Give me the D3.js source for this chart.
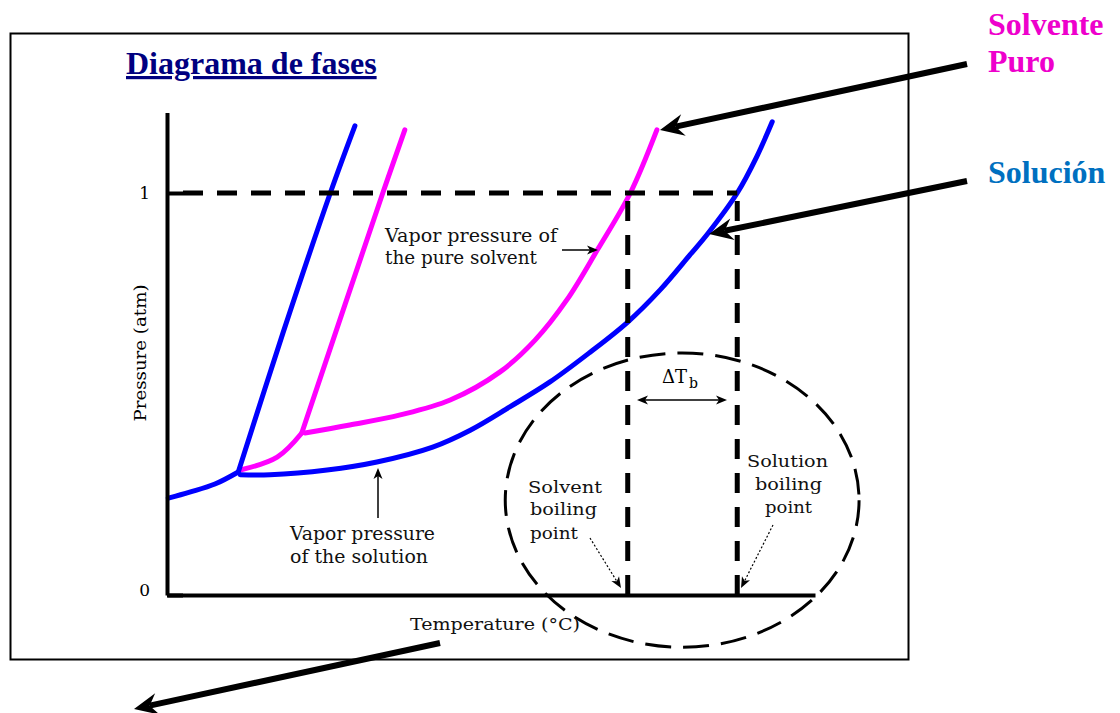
<!DOCTYPE html>
<html>
<head>
<meta charset="utf-8">
<script src="https://cdn.jsdelivr.net/npm/d3@7"></script>
<style>
  body { margin: 0; background: #fff; }
  svg { display: block; }
</style>
</head>
<body>
<script>
// curves as [temperature (arbitrary 0-100), pressure (atm)]
const solventSublimation = [[11.3,0.311],[17.0,0.343],[20.8,0.403]];
const solventMelting = [[20.8,0.403],[33.3,1.0],[36.7,1.157]];
const solventVapor = [[21.3,0.403],[28.2,0.423],[36.0,0.448],[43.7,0.485],[51.4,0.555],[56.8,0.634],[61.7,0.734],[66.4,0.858],[71.5,1.0],[75.6,1.157]];

const solutionSublimation = [[0.2,0.241],[3.5,0.256],[7.4,0.276],[11.0,0.306]];
const solutionMelting = [[11.0,0.306],[17.9,0.652],[25.2,1.0],[29.0,1.167]];
const solutionVapor = [[11.3,0.299],[15.9,0.299],[24.7,0.311],[32.4,0.331],[41.0,0.368],[46.8,0.410],[52.9,0.468],[59.1,0.530],[65.3,0.604],[71.1,0.679],[76.1,0.759],[80.7,0.846],[83.5,0.900],[88.0,1.0],[91.0,1.090],[93.4,1.177]];

const pressureTicks = [0, 1];
const solventBoilingT = 71.1;
const solutionBoilingT = 88.0;

const width = 1120, height = 713;
const magenta = "#ff00ff", blue = "#0000ff";

const svg = d3.select("body").append("svg")
  .attr("width", width).attr("height", height)
  .attr("viewBox", `0 0 ${width} ${height}`);

const x = d3.scaleLinear().domain([0, 100]).range([167, 815]);
const y = d3.scaleLinear().domain([0, 1.2]).range([595, 112.6]);

// outer frame
svg.append("rect").attr("x", 10.5).attr("y", 33.5).attr("width", 898).attr("height", 626)
  .attr("fill", "none").attr("stroke", "#000").attr("stroke-width", 2);

// title
svg.append("text").attr("x", 126).attr("y", 74)
  .attr("font-family", "Liberation Serif, Times New Roman, serif")
  .attr("font-weight", "bold").attr("font-size", 32).attr("fill", "#000080")
  .attr("text-decoration", "underline")
  .text("Diagrama de fases");

const smooth = d3.line().x(d => x(d[0])).y(d => y(d[1])).curve(d3.curveCatmullRom.alpha(0.5));

const curves = svg.append("g").attr("fill", "none").attr("stroke-width", 5).attr("stroke-linecap", "round");
curves.append("path").datum(solventSublimation).attr("d", smooth).attr("stroke", magenta);
curves.append("path").datum(solventMelting).attr("d", smooth).attr("stroke", magenta);
curves.append("path").datum(solventVapor).attr("d", smooth).attr("stroke", magenta);
curves.append("path").datum(solutionSublimation).attr("d", smooth).attr("stroke", blue);
curves.append("path").datum(solutionMelting).attr("d", smooth).attr("stroke", blue);
curves.append("path").datum(solutionVapor).attr("d", smooth).attr("stroke", blue);

// dashed guides
const guides = svg.append("g").attr("stroke", "#000").attr("stroke-width", 5).attr("stroke-dasharray", "20,14");
guides.append("line").attr("x1", x(0)).attr("x2", x(solutionBoilingT)).attr("y1", y(1)).attr("y2", y(1))
  .attr("stroke-dashoffset", -16);
[solventBoilingT, solutionBoilingT].forEach(t => {
  guides.append("line").attr("x1", x(t)).attr("x2", x(t)).attr("y1", y(1) + 8).attr("y2", y(0));
});

// axes
const yAxis = svg.append("g").attr("transform", `translate(${x(0)},0)`)
  .call(d3.axisLeft(y).tickValues(pressureTicks).tickFormat(d3.format("d"))
    .tickSizeInner(-16).tickSizeOuter(0).tickPadding(17));
yAxis.select(".domain").attr("stroke-width", 4);
yAxis.selectAll(".tick line").attr("stroke-width", 4);
yAxis.selectAll(".tick text").attr("font-family", "DejaVu Serif, serif").attr("font-size", 17)
  .attr("dy", d => d === 0 ? "0.05em" : "0.32em");

const xAxis = svg.append("g").attr("transform", `translate(0,${y(0)})`)
  .call(d3.axisBottom(x).tickValues([]).tickSizeOuter(0));
xAxis.select(".domain").attr("stroke-width", 4);

// dashed ellipse
const ellipseCenter = [79.5, 0.236], ellipseRadius = [27.3, 0.366];
svg.append("ellipse")
  .attr("cx", x(ellipseCenter[0])).attr("cy", y(ellipseCenter[1]))
  .attr("rx", x(ellipseRadius[0]) - x(0)).attr("ry", y(0) - y(ellipseRadius[1]))
  .attr("fill", "none").attr("stroke", "#000").attr("stroke-width", 3)
  .attr("stroke-dasharray", "26,12");

// text labels
const serif = "DejaVu Serif, serif";
function label(txt, px, py, len, size, anchor) {
  const t = svg.append("text").attr("x", px).attr("y", py)
    .attr("font-family", serif).attr("font-size", size || 17)
    .attr("text-anchor", anchor || "start").attr("fill", "#111").text(txt);
  if (len) t.attr("textLength", len).attr("lengthAdjust", "spacingAndGlyphs");
  return t;
}
label("Vapor pressure of", 385, 242, 172, 18);
label("the pure solvent", 385, 264, 152, 18);
label("Vapor pressure", 290, 540, 145, 18);
label("of the solution", 290, 563, 138, 18);
label("Solvent", 528, 493, 74, 17);
label("boiling", 530, 515, 67, 17);
label("point", 530, 539, 48, 17);
label("Solution", 747, 467, 81, 17);
label("boiling", 755, 490, 67, 17);
label("point", 765, 513, 47, 17);
label("Temperature (°C)", 410, 630, 170, 17);
svg.append("text").attr("transform", "translate(146,353) rotate(-90)")
  .attr("font-family", serif).attr("font-size", 17).attr("text-anchor", "middle")
  .attr("textLength", 137).attr("lengthAdjust", "spacingAndGlyphs").text("Pressure (atm)");

const dt = svg.append("text").attr("x", 662).attr("y", 383)
  .attr("font-family", serif).attr("font-size", 18);
dt.append("tspan").text("ΔT");
dt.append("tspan").attr("font-size", 14).attr("dy", 5).attr("dx", 2).text("b");

// arrows
function arrow(x1, y1, x2, y2, o) {
  const ang = Math.atan2(y2 - y1, x2 - x1);
  const L = o.len, Wd = o.half, N = o.notch;
  const g = svg.append("g");
  g.append("line")
    .attr("x1", x1).attr("y1", y1)
    .attr("x2", x2 - Math.cos(ang) * N).attr("y2", y2 - Math.sin(ang) * N)
    .attr("stroke", "#000").attr("stroke-width", o.sw)
    .attr("stroke-dasharray", o.dash || null);
  g.append("path")
    .attr("d", `M0,0L${-L},${-Wd}L${-N},0L${-L},${Wd}Z`)
    .attr("transform", `translate(${x2},${y2}) rotate(${ang * 180 / Math.PI})`)
    .attr("fill", "#000");
}
const big = { len: 24, half: 11, notch: 16, sw: 6 };
arrow(967, 64, 660, 130, big);
arrow(967, 181, 709, 234, big);
arrow(440, 643, 134, 709, big);

const small = { len: 11, half: 4.5, notch: 8, sw: 1.5 };
arrow(562, 250, 598, 250, small);
arrow(378, 518, 378, 468, small);
arrow(682, 400, 637, 400, small);
arrow(682, 400, 727, 400, small);

const dotted = { len: 11, half: 4.5, notch: 8, sw: 1.2, dash: "2,2" };
arrow(590, 538, 621, 588, dotted);
arrow(773, 525, 741, 588, dotted);

// side captions
const side = svg.append("g").attr("font-family", "Liberation Serif, Times New Roman, serif")
  .attr("font-weight", "bold").attr("font-size", 32);
side.append("text").attr("x", 988).attr("y", 35).attr("fill", "#ee00cc").text("Solvente");
side.append("text").attr("x", 988).attr("y", 72).attr("fill", "#ee00cc").text("Puro");
side.append("text").attr("x", 988).attr("y", 183).attr("fill", "#0070c0").text("Solución");
</script>
</body>
</html>
